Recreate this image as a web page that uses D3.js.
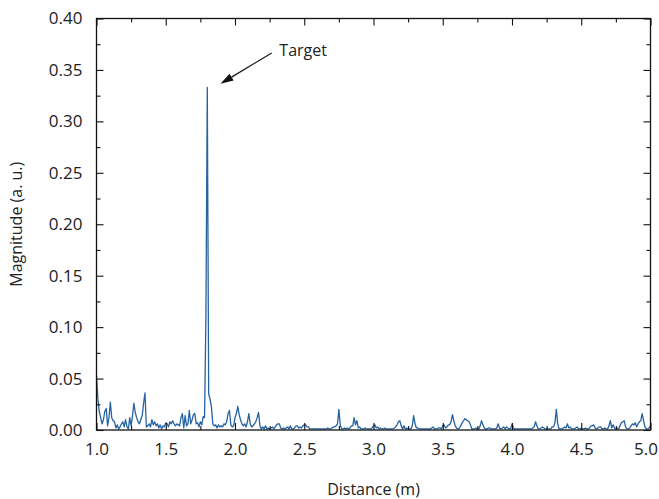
<!DOCTYPE html>
<html>
<head>
<meta charset="utf-8">
<script src="https://cdn.jsdelivr.net/npm/d3@7"></script>
<style>
  body { margin: 0; background: #fff; }
  text { font-family: "Open Sans", "Noto Sans", sans-serif; fill: #222; }
</style>
</head>
<body>
<svg id="chart" width="659" height="499"></svg>
<script>
// sampling grid of the trace (m)
const distStart = 1.0;
const distStep = 0.01;

// magnitude (a. u.), one value per 0.01 m from 1.00 to 5.00
const magnitude = [
  0.053, 0.030, 0.018, 0.012, 0.006, 0.010, 0.018, 0.021, 0.004, 0.012,
  0.027, 0.012, 0.009, 0.008, 0.002, 0.005, 0.001, 0.003, 0.006, 0.008,
  0.003, 0.010, 0.003, 0.001, 0.012, 0.004, 0.014, 0.026, 0.017, 0.012,
  0.008, 0.006, 0.010, 0.014, 0.026, 0.036, 0.003, 0.004, 0.006, 0.003,
  0.010, 0.005, 0.008, 0.004, 0.006, 0.002, 0.005, 0.001, 0.004, 0.003,
  0.007, 0.006, 0.003, 0.008, 0.006, 0.009, 0.006, 0.004, 0.006, 0.005,
  0.004, 0.012, 0.016, 0.002, 0.014, 0.004, 0.006, 0.019, 0.006, 0.010,
  0.015, 0.016, 0.006, 0.007, 0.003, 0.008, 0.005, 0.013, 0.012, 0.110,
  0.333, 0.035, 0.030, 0.022, 0.006, 0.004, 0.005, 0.002, 0.005, 0.003,
  0.004, 0.003, 0.006, 0.005, 0.008, 0.016, 0.019, 0.005, 0.003, 0.004,
  0.012, 0.016, 0.023, 0.015, 0.010, 0.006, 0.004, 0.006, 0.003, 0.008,
  0.016, 0.006, 0.003, 0.004, 0.006, 0.008, 0.012, 0.017, 0.004, 0.001,
  0.003, 0.001, 0.004, 0.001, 0.002, 0.001, 0.002, 0.003, 0.001, 0.003,
  0.005, 0.006, 0.006, 0.002, 0.001, 0.002, 0.001, 0.002, 0.003, 0.001,
  0.004, 0.001, 0.001, 0.002, 0.004, 0.004, 0.002, 0.003, 0.002, 0.004,
  0.005, 0.005, 0.003, 0.003, 0.001, 0.001, 0.001, 0.001, 0.001, 0.001,
  0.001, 0.001, 0.001, 0.001, 0.001, 0.001, 0.001, 0.002, 0.001, 0.001,
  0.002, 0.003, 0.003, 0.004, 0.006, 0.020, 0.005, 0.001, 0.001, 0.002,
  0.001, 0.002, 0.001, 0.002, 0.004, 0.004, 0.012, 0.005, 0.009, 0.002,
  0.003, 0.001, 0.001, 0.001, 0.002, 0.001, 0.001, 0.001, 0.001, 0.002,
  0.004, 0.005, 0.002, 0.003, 0.001, 0.002, 0.001, 0.001, 0.002, 0.001,
  0.001, 0.001, 0.001, 0.001, 0.001, 0.002, 0.003, 0.005, 0.008, 0.009,
  0.004, 0.001, 0.004, 0.001, 0.002, 0.001, 0.001, 0.001, 0.004, 0.014,
  0.006, 0.002, 0.002, 0.001, 0.001, 0.001, 0.001, 0.001, 0.001, 0.001,
  0.001, 0.001, 0.002, 0.003, 0.001, 0.001, 0.001, 0.002, 0.002, 0.001,
  0.004, 0.005, 0.002, 0.003, 0.005, 0.005, 0.008, 0.015, 0.009, 0.004,
  0.002, 0.001, 0.002, 0.004, 0.007, 0.009, 0.011, 0.010, 0.009, 0.008,
  0.005, 0.001, 0.001, 0.001, 0.002, 0.001, 0.001, 0.004, 0.009, 0.005,
  0.002, 0.001, 0.001, 0.002, 0.002, 0.001, 0.001, 0.001, 0.001, 0.002,
  0.006, 0.002, 0.001, 0.002, 0.003, 0.001, 0.003, 0.002, 0.001, 0.001,
  0.006, 0.002, 0.001, 0.001, 0.001, 0.001, 0.001, 0.001, 0.001, 0.001,
  0.001, 0.001, 0.001, 0.001, 0.001, 0.002, 0.003, 0.008, 0.004, 0.001,
  0.001, 0.002, 0.003, 0.002, 0.001, 0.001, 0.001, 0.001, 0.001, 0.003,
  0.003, 0.007, 0.020, 0.006, 0.001, 0.001, 0.001, 0.002, 0.003, 0.002,
  0.006, 0.002, 0.003, 0.001, 0.001, 0.001, 0.002, 0.003, 0.001, 0.001,
  0.002, 0.001, 0.001, 0.002, 0.001, 0.001, 0.002, 0.004, 0.004, 0.005,
  0.002, 0.001, 0.002, 0.003, 0.003, 0.001, 0.001, 0.002, 0.001, 0.001,
  0.004, 0.009, 0.002, 0.005, 0.002, 0.001, 0.002, 0.001, 0.004, 0.007,
  0.008, 0.009, 0.003, 0.001, 0.001, 0.002, 0.004, 0.006, 0.005, 0.007,
  0.003, 0.006, 0.008, 0.009, 0.016, 0.009, 0.003, 0.001, 0.001, 0.002,
  0.004
];

const xTicks = [1.0, 1.5, 2.0, 2.5, 3.0, 3.5, 4.0, 4.5, 5.0];
const xMinorTicks = [1.25, 1.75, 2.25, 2.75, 3.25, 3.75, 4.25, 4.75];
const yTicks = [0, 0.05, 0.10, 0.15, 0.20, 0.25, 0.30, 0.35, 0.40];
const yMinorTicks = [0.025, 0.075, 0.125, 0.175, 0.225, 0.275, 0.325, 0.375];

// annotation, in data units
const targetLabel = 'Target';
const targetLabelPos = [2.32, 0.3635];
const targetArrowFrom = [2.265, 0.3665];
const targetArrowTo = [1.895, 0.3365];


var svg = d3.select('#chart');

var m = { left: 96.5, right: 8.5, top: 18.5, bottom: 69 };
var W = 659, H = 499;

var x = d3.scaleLinear().domain([1, 5]).range([m.left, W - m.right]);
var y = d3.scaleLinear().domain([0, 0.4]).range([H - m.bottom, m.top]);

var points = magnitude.map(function (v, i) {
  return [distStart + i * distStep, v];
});

// trace
svg.append('path')
  .datum(points)
  .attr('fill', 'none')
  .attr('stroke', '#2563a3')
  .attr('stroke-width', 1.3)
  .attr('stroke-linejoin', 'round')
  .attr('d', d3.line().x(function (d) { return x(d[0]); }).y(function (d) { return y(d[1]); }));

// axes, ticks pointing inward
function styleAxis(g) {
  g.select('.domain').remove();
  g.selectAll('.tick line').attr('stroke', '#111').attr('stroke-width', 1.1);
  g.selectAll('.tick text').attr('fill', '#222')
    .style('font-family', '"Open Sans", sans-serif').style('font-size', '17px');
}

var yB = H - m.bottom, xR = W - m.right;

var xAxisG = svg.append('g').attr('transform', 'translate(0,' + yB + ')')
  .call(d3.axisBottom(x).tickValues(xTicks).tickSize(-7).tickPadding(13).tickFormat(d3.format('.1f')))
  .call(styleAxis);
// the last label sits at the window edge
xAxisG.selectAll('.tick text').filter(function (d) { return d === 5; })
  .attr('text-anchor', 'end').attr('dx', 7);

svg.append('g').attr('transform', 'translate(0,' + yB + ')')
  .call(d3.axisBottom(x).tickValues(xMinorTicks).tickSize(-4).tickFormat(''))
  .call(styleAxis);
svg.append('g').attr('transform', 'translate(0,' + m.top + ')')
  .call(d3.axisTop(x).tickValues(xTicks).tickSize(-7).tickFormat(''))
  .call(styleAxis);
svg.append('g').attr('transform', 'translate(0,' + m.top + ')')
  .call(d3.axisTop(x).tickValues(xMinorTicks).tickSize(-4).tickFormat(''))
  .call(styleAxis);

svg.append('g').attr('transform', 'translate(' + m.left + ',0)')
  .call(d3.axisLeft(y).tickValues(yTicks).tickSize(-7).tickPadding(14).tickFormat(d3.format('.2f')))
  .call(styleAxis);
svg.append('g').attr('transform', 'translate(' + m.left + ',0)')
  .call(d3.axisLeft(y).tickValues(yMinorTicks).tickSize(-4).tickFormat(''))
  .call(styleAxis);
svg.append('g').attr('transform', 'translate(' + xR + ',0)')
  .call(d3.axisRight(y).tickValues(yTicks).tickSize(-7).tickFormat(''))
  .call(styleAxis);
svg.append('g').attr('transform', 'translate(' + xR + ',0)')
  .call(d3.axisRight(y).tickValues(yMinorTicks).tickSize(-4).tickFormat(''))
  .call(styleAxis);

// frame
svg.append('rect')
  .attr('x', m.left).attr('y', m.top)
  .attr('width', xR - m.left).attr('height', yB - m.top)
  .attr('fill', 'none').attr('stroke', '#111').attr('stroke-width', 1.3);

// axis titles
svg.append('text')
  .attr('x', (m.left + xR) / 2).attr('y', 495)
  .attr('text-anchor', 'middle').style('font-size', '16px')
  .text('Distance (m)');

svg.append('text')
  .attr('transform', 'translate(22,' + ((m.top + yB) / 2) + ') rotate(-90)')
  .attr('text-anchor', 'middle').style('font-size', '16px')
  .text('Magnitude (a. u.)');

// target annotation
var ax0 = x(targetArrowFrom[0]), ay0 = y(targetArrowFrom[1]);
var ax1 = x(targetArrowTo[0]), ay1 = y(targetArrowTo[1]);
var ang = Math.atan2(ay1 - ay0, ax1 - ax0);
var headL = 13, headW = 4;
var bx = ax1 - headL * Math.cos(ang), by = ay1 - headL * Math.sin(ang);

svg.append('line')
  .attr('x1', ax0).attr('y1', ay0).attr('x2', bx).attr('y2', by)
  .attr('stroke', '#111').attr('stroke-width', 1.2);

svg.append('path')
  .attr('d', 'M' + ax1 + ',' + ay1 +
    'L' + (bx + headW * Math.sin(ang)) + ',' + (by - headW * Math.cos(ang)) +
    'L' + (bx - headW * Math.sin(ang)) + ',' + (by + headW * Math.cos(ang)) + 'Z')
  .attr('fill', '#111');

svg.append('text')
  .attr('x', x(targetLabelPos[0])).attr('y', y(targetLabelPos[1]))
  .style('font-size', '16px')
  .text(targetLabel);
</script>
</body>
</html>
